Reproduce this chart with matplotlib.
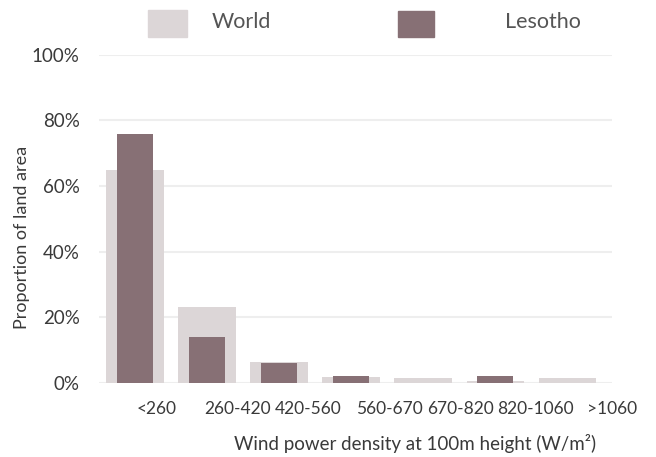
import matplotlib
matplotlib.use("Agg")
import matplotlib.pyplot as plt
from matplotlib.patches import Rectangle
import numpy as np

# data
categories = ["<260", "260-420", "420-560", "560-670", "670-820", "820-1060", ">1060"]
world = [65.0, 23.2, 6.4, 1.8, 1.5, 0.6, 1.4]
lesotho = [75.9, 14.0, 6.1, 2.1, 0.0, 2.1, 0.0]
yticks = [0, 20, 40, 60, 80, 100]

world_color = "#dcd6d7"
lesotho_color = "#877075"
text_color = "#3a3a3a"

plt.rcParams['font.family'] = ['Lato', 'DejaVu Sans']

fig = plt.figure(figsize=(6.56, 4.57), dpi=100)
ax = fig.add_axes([0.151, 0.162, 0.782, 0.718])

x = np.arange(len(categories))
ax.bar(x, world, width=0.8, color=world_color, zorder=2)
ax.bar(x, lesotho, width=0.5, color=lesotho_color, zorder=3)

ax.set_xlim(-0.5, len(categories) - 0.5)
ax.set_ylim(0, 100)
ax.set_yticks(yticks)
ax.set_yticklabels([f"{v}%" for v in yticks], fontsize=13.5, color=text_color)
ax.yaxis.grid(True, color="#eeeeee", linewidth=1.5, zorder=0)
ax.set_axisbelow(True)

# labels in the original sit to the right of the bars, a bit unevenly
label_shift = [0.30, 0.42, 0.40, 0.53, 0.52, 0.56, 0.62]
ax.set_xticks(x + np.array(label_shift))
ax.set_xticklabels(categories, fontsize=12.5, color=text_color)
ax.tick_params(axis="both", length=0)
ax.tick_params(axis="x", pad=13)
ax.tick_params(axis="y", pad=14)

for s in ax.spines.values():
    s.set_visible(False)

ax.set_ylabel("Proportion of land area", fontsize=13, color=text_color)
ax.yaxis.set_label_coords(-0.135, 0.445)
ax.set_xlabel("Wind power density at 100m height (W/m²)", fontsize=13.5, color=text_color)
ax.xaxis.set_label_coords(0.616, -0.155)

# legend drawn by hand to match the spacing of the original
W, H = 656, 457
fig.add_artist(Rectangle((148 / W, 1 - 37 / H), 39 / W, 27 / H,
                         transform=fig.transFigure, color=world_color))
fig.text(212 / W, 1 - 22 / H, "World", fontsize=15.5, color="#555555", va="center")
fig.add_artist(Rectangle((398 / W, 1 - 37 / H), 36 / W, 26 / H,
                         transform=fig.transFigure, color=lesotho_color))
fig.text(505 / W, 1 - 22 / H, "Lesotho", fontsize=15.5, color="#555555", va="center")

fig.savefig("out.png", dpi=100)
